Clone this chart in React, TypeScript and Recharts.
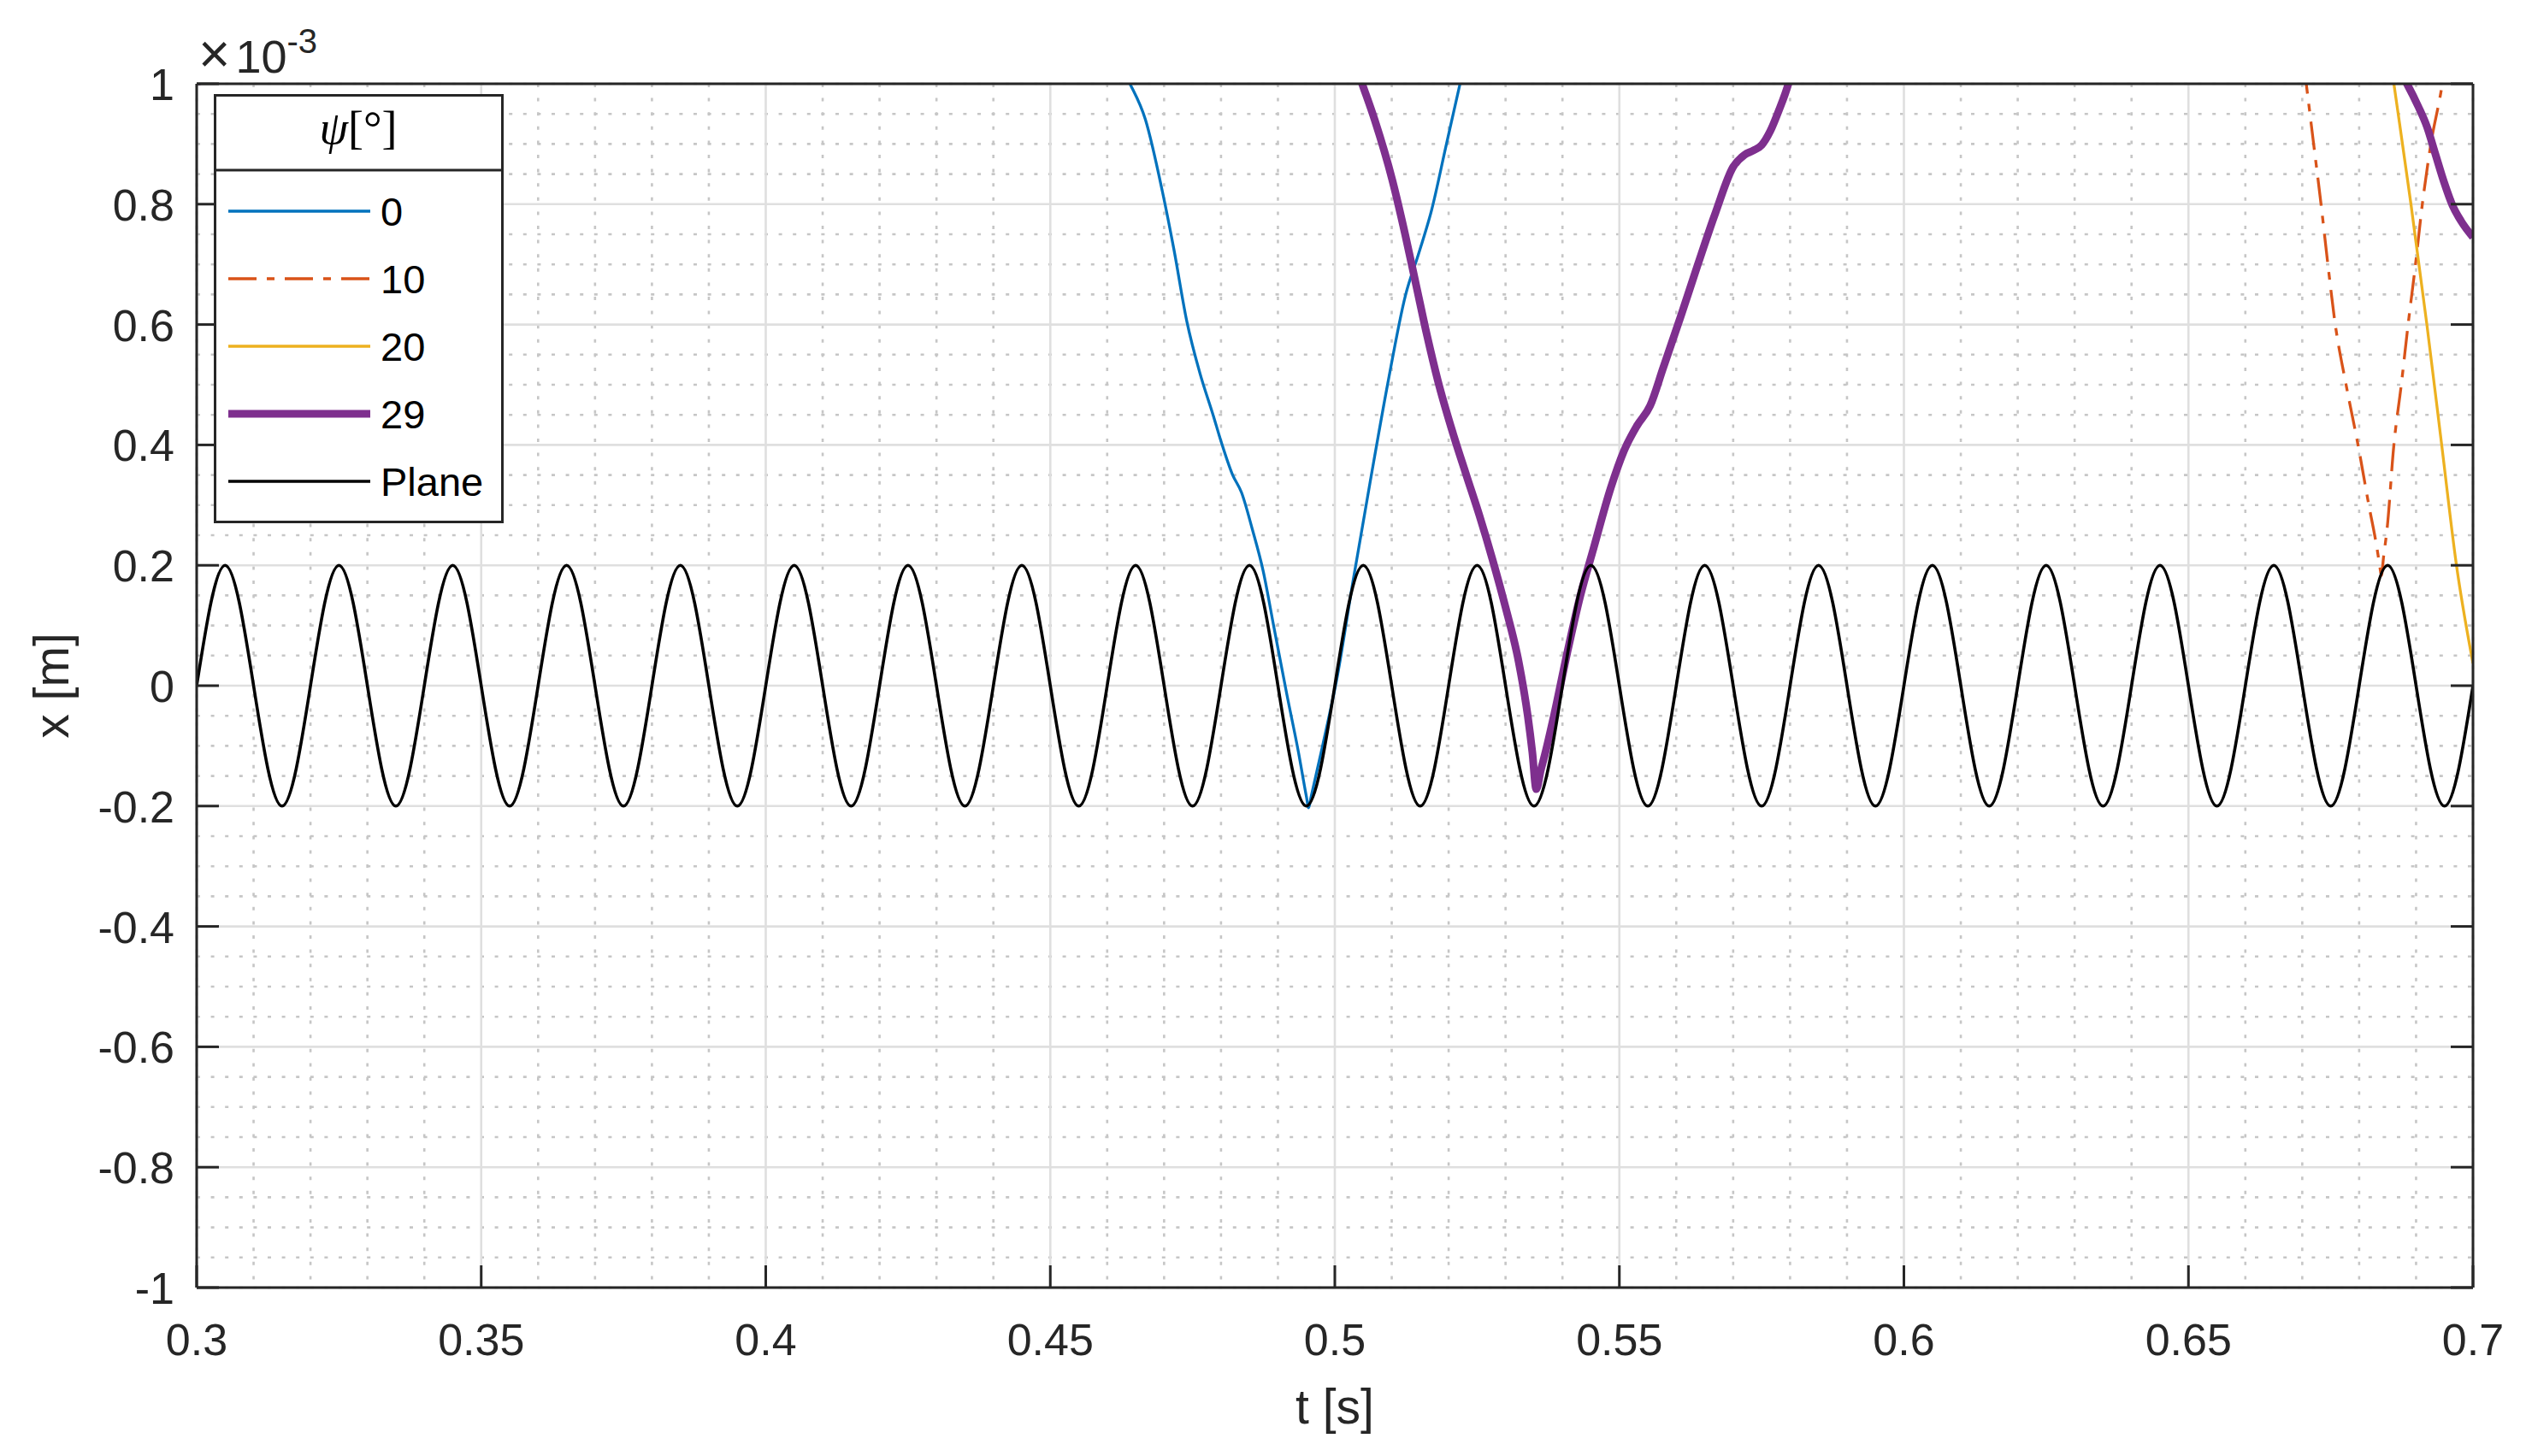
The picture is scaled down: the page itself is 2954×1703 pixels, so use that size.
import React from "react";
import { LineChart, Line, XAxis, YAxis, CartesianGrid, Label } from "recharts";

const FONT = '"Liberation Sans", Arial, Helvetica, sans-serif';
const INK = "#262626";

// axis ticks
const tTicks = [0.3, 0.35, 0.4, 0.45, 0.5, 0.55, 0.6, 0.65, 0.7];
const xTicks = [-1, -0.8, -0.6, -0.4, -0.2, 0, 0.2, 0.4, 0.6, 0.8, 1];
const tMinor = [
  0.31, 0.32, 0.33, 0.34, 0.36, 0.37, 0.38, 0.39, 0.41, 0.42, 0.43, 0.44,
  0.46, 0.47, 0.48, 0.49, 0.51, 0.52, 0.53, 0.54, 0.56, 0.57, 0.58, 0.59,
  0.61, 0.62, 0.63, 0.64, 0.66, 0.67, 0.68, 0.69,
];
const xMinor = [
  -0.95, -0.9, -0.85, -0.75, -0.7, -0.65, -0.55, -0.5, -0.45, -0.35, -0.3, -0.25,
  -0.15, -0.1, -0.05, 0.05, 0.1, 0.15, 0.25, 0.3, 0.35, 0.45, 0.5, 0.55,
  0.65, 0.7, 0.75, 0.85, 0.9, 0.95,
];

// plane motion (x in 1e-3 m)
const planeT = [
  0.3, 0.305, 0.31, 0.315, 0.32, 0.325, 0.33, 0.335, 0.34, 0.345, 0.35, 0.355,
  0.36, 0.365, 0.37, 0.375, 0.38, 0.385, 0.39, 0.395, 0.4, 0.405, 0.41, 0.415,
  0.42, 0.425, 0.43, 0.435, 0.44, 0.445, 0.45, 0.455, 0.46, 0.465, 0.47, 0.475,
  0.48, 0.485, 0.49, 0.495, 0.5, 0.505, 0.51, 0.515, 0.52, 0.525, 0.53, 0.535,
  0.54, 0.545, 0.55, 0.555, 0.56, 0.565, 0.57, 0.575, 0.58, 0.585, 0.59, 0.595,
  0.6, 0.605, 0.61, 0.615, 0.62, 0.625, 0.63, 0.635, 0.64, 0.645, 0.65, 0.655,
  0.66, 0.665, 0.67, 0.675, 0.68, 0.685, 0.69, 0.695, 0.7,
];
const planeX = [
  0, 0.2, 0, -0.2, 0, 0.2, 0, -0.2, 0, 0.2, 0, -0.2, 0, 0.2, 0, -0.2,
  0, 0.2, 0, -0.2, 0, 0.2, 0, -0.2, 0, 0.2, 0, -0.2, 0, 0.2, 0, -0.2,
  0, 0.2, 0, -0.2, 0, 0.2, 0, -0.2, 0, 0.2, 0, -0.2, 0, 0.2, 0, -0.2,
  0, 0.2, 0, -0.2, 0, 0.2, 0, -0.2, 0, 0.2, 0, -0.2, 0, 0.2, 0, -0.2,
  0, 0.2, 0, -0.2, 0, 0.2, 0, -0.2, 0, 0.2, 0, -0.2, 0, 0.2, 0, -0.2,
  0,
];

// psi = 0
const psi0T = [
  0.4617, 0.464, 0.4667, 0.4697, 0.4717, 0.474, 0.4763, 0.4786, 0.4801, 0.482,
  0.4836, 0.4855, 0.4874, 0.4893, 0.4916, 0.4936, 0.495, 0.4954, 0.4958, 0.4978,
  0.5005, 0.5032, 0.5062, 0.5093, 0.5124, 0.5147, 0.517, 0.5195, 0.522, 0.5236,
];
const psi0X = [
  1.04, 1.0, 0.941, 0.821, 0.726, 0.605, 0.519, 0.45, 0.403, 0.351,
  0.321, 0.26, 0.191, 0.097, -0.016, -0.11, -0.184, -0.203, -0.186, -0.102,
  0.019, 0.174, 0.338, 0.502, 0.648, 0.717, 0.79, 0.895, 1.0, 1.065,
];

// psi = 10
const psi10T = [
  0.6703, 0.6707, 0.672, 0.6733, 0.6745, 0.6758, 0.6777, 0.6798, 0.6817, 0.6831,
  0.6836, 0.6839, 0.6843, 0.6849, 0.6861, 0.6874, 0.6886, 0.6899, 0.6911, 0.6926,
  0.6946, 0.6952,
];
const psi10X = [
  1.03, 1.0, 0.9, 0.8, 0.7, 0.6, 0.5, 0.4, 0.3, 0.23,
  0.2, 0.183, 0.215, 0.26, 0.4, 0.5, 0.6, 0.7, 0.8, 0.9,
  1.0, 1.04,
];

// psi = 20
const psi20T = [0.6855, 0.6861, 0.6891, 0.6919, 0.6945, 0.6971, 0.7];
const psi20X = [1.04, 1.0, 0.8, 0.6, 0.4, 0.2, 0.037];

// psi = 29
const psi29T = [
  0.3, 0.3003, 0.4,
  0.5037, 0.5048, 0.507, 0.5101, 0.5124, 0.5143, 0.5162, 0.5181, 0.5208, 0.5231,
  0.5254, 0.5277, 0.53, 0.5323, 0.5339, 0.5347, 0.5354, 0.5362, 0.5369, 0.5385,
  0.5408, 0.5431, 0.5454, 0.5485, 0.5508, 0.5531, 0.5554, 0.5577, 0.5608, 0.5638,
  0.5669, 0.5700, 0.572, 0.5735, 0.575, 0.5765, 0.578, 0.5797, 0.5808,
  0.65,
  0.6872, 0.6884, 0.6904, 0.6919, 0.6934, 0.6949, 0.6964, 0.6979, 0.7,
];
const psi29X = [
  0.998, 1.05, null,
  1.03, 1.0, 0.94, 0.84, 0.748, 0.665, 0.582, 0.507, 0.418, 0.35,
  0.283, 0.21, 0.13, 0.04, -0.05, -0.11, -0.172, -0.14, -0.115, -0.05,
  0.053, 0.148, 0.226, 0.329, 0.39, 0.432, 0.465, 0.528, 0.614, 0.7,
  0.786, 0.862, 0.882, 0.889, 0.898, 0.921, 0.955, 1.0, 1.04,
  null,
  1.02, 1.0, 0.962, 0.929, 0.883, 0.837, 0.798, 0.772, 0.745,
];

const toPoints = (ts: number[], xs: (number | null)[]) =>
  ts.map((t, i) => ({ t, x: xs[i] }));

const series = [
  { name: "0", data: toPoints(psi0T, psi0X), color: "#0072BD", width: 3.3, dash: undefined as string | undefined, curve: "monotone" },
  { name: "10", data: toPoints(psi10T, psi10X), color: "#D95319", width: 3.3, dash: "33 12 9 12", curve: "monotone" },
  { name: "20", data: toPoints(psi20T, psi20X), color: "#EDB120", width: 3.3, dash: undefined, curve: "monotone" },
  { name: "29", data: toPoints(psi29T, psi29X), color: "#7E2F8E", width: 9, dash: undefined, curve: "monotone" },
  { name: "Plane", data: toPoints(planeT, planeX), color: "#000000", width: 3.6, dash: undefined, curve: "natural" },
];

const TICK_LEN = 26;

const BottomTick = (p: any) => (
  <g>
    <line x1={p.x} y1={p.y} x2={p.x} y2={p.y - TICK_LEN} stroke={INK} strokeWidth={3} />
    <text x={p.x} y={p.y + 79} textAnchor="middle" fontSize={52} fill={INK} fontFamily={FONT}>
      {String(p.payload.value)}
    </text>
  </g>
);

const LeftTick = (p: any) => (
  <g>
    <line x1={p.x} y1={p.y} x2={p.x + TICK_LEN} y2={p.y} stroke={INK} strokeWidth={3} />
    <text x={p.x - 26} y={p.y + 19} textAnchor="end" fontSize={52} fill={INK} fontFamily={FONT}>
      {String(p.payload.value)}
    </text>
  </g>
);

const TopTick = (p: any) => (
  <line x1={p.x} y1={p.y} x2={p.x} y2={p.y + TICK_LEN} stroke={INK} strokeWidth={3} />
);

const RightTick = (p: any) => (
  <line x1={p.x} y1={p.y} x2={p.x - TICK_LEN} y2={p.y} stroke={INK} strokeWidth={3} />
);

const XTitle = (props: any) => {
  const vb = props.viewBox ?? { x: 230, y: 1506, width: 2662, height: 170 };
  return (
    <text x={vb.x + vb.width / 2} y={vb.y + 159} textAnchor="middle" fontSize={57} fill={INK} fontFamily={FONT}>
      t [s]
    </text>
  );
};

const YTitle = (props: any) => {
  const vb = props.viewBox ?? { x: 0, y: 98, width: 230, height: 1408 };
  const cx = vb.x + 80;
  const cy = vb.y + vb.height / 2;
  return (
    <text x={cx} y={cy} transform={`rotate(-90, ${cx}, ${cy})`} textAnchor="middle" fontSize={57} fill={INK} fontFamily={FONT}>
      x [m]
    </text>
  );
};

const Exponent = (props: any) => {
  const vb = props.viewBox ?? { x: 230, y: 88, width: 2662, height: 10 };
  return (
    <text x={vb.x + 2} y={85} fontSize={54} fill={INK} fontFamily={FONT}>
      <tspan fontSize={64}>{"\u00d7"}</tspan>
      <tspan dx={6}>10</tspan>
      <tspan dy={-23} fontSize={40}>-3</tspan>
    </text>
  );
};

const Legend = () => {
  const rows = [247, 326, 405, 484, 563];
  return (
    <svg width={2954} height={1703} style={{ position: "absolute", left: 0, top: 0, pointerEvents: "none" }}>
      <rect x={251.5} y={111.5} width={336} height={499} fill="#ffffff" stroke={INK} strokeWidth={3} />
      <line x1={251.5} y1={199} x2={587.5} y2={199} stroke={INK} strokeWidth={3} />
      <text x={419} y={168} textAnchor="middle" fontSize={54} fill="#000" fontFamily='"Liberation Serif", "DejaVu Serif", serif'>
        <tspan fontStyle="italic">{"\u03c8"}</tspan>
        {"[\u00b0]"}
      </text>
      {series.map((s, i) => (
        <g key={s.name}>
          <line x1={267} y1={rows[i]} x2={433} y2={rows[i]} stroke={s.color} strokeWidth={s.width} strokeDasharray={s.dash} />
          <text x={445} y={rows[i] + 17} fontSize={47} fill="#000" fontFamily={FONT}>
            {s.name}
          </text>
        </g>
      ))}
    </svg>
  );
};

export default function App() {
  return (
    <div style={{ position: "absolute", left: 0, top: 0, width: 2954, height: 1703, background: "#fff" }}>
      <LineChart width={2954} height={1703} margin={{ top: 88, right: 52, bottom: 27, left: 0 }}>
        <XAxis xAxisId="minor" type="number" dataKey="t" domain={[0.3, 0.7]} ticks={tMinor} allowDataOverflow hide />
        <YAxis yAxisId="minor" type="number" domain={[-1, 1]} ticks={xMinor} allowDataOverflow hide />
        <CartesianGrid xAxisId="minor" yAxisId="minor" stroke="#c6c6c6" strokeWidth={2.6} strokeDasharray="4 12.6" />
        <CartesianGrid stroke="#dfdfdf" strokeWidth={2.6} />
        <XAxis
          type="number"
          dataKey="t"
          domain={[0.3, 0.7]}
          ticks={tTicks}
          interval={0}
          allowDataOverflow
          height={170}
          tickSize={0}
          tickMargin={0}
          tickLine={false}
          axisLine={{ stroke: INK, strokeWidth: 3 }}
          tick={BottomTick}
        >
          <Label content={XTitle} />
        </XAxis>
        <XAxis
          xAxisId="top"
          orientation="top"
          type="number"
          domain={[0.3, 0.7]}
          ticks={tTicks}
          interval={0}
          allowDataOverflow
          height={10}
          tickSize={0}
          tickMargin={0}
          tickLine={false}
          axisLine={{ stroke: INK, strokeWidth: 3 }}
          tick={TopTick}
        >
          <Label content={Exponent} />
        </XAxis>
        <YAxis
          type="number"
          domain={[-1, 1]}
          ticks={xTicks}
          interval={0}
          allowDataOverflow
          width={230}
          tickSize={0}
          tickMargin={0}
          tickLine={false}
          axisLine={{ stroke: INK, strokeWidth: 3 }}
          tick={LeftTick}
        >
          <Label content={YTitle} />
        </YAxis>
        <YAxis
          yAxisId="right"
          orientation="right"
          type="number"
          domain={[-1, 1]}
          ticks={xTicks}
          interval={0}
          allowDataOverflow
          width={10}
          tickSize={0}
          tickMargin={0}
          tickLine={false}
          axisLine={{ stroke: INK, strokeWidth: 3 }}
          tick={RightTick}
        />
        {series.map((s) => (
          <Line
            key={s.name}
            data={s.data}
            dataKey="x"
            type={s.curve as any}
            stroke={s.color}
            strokeWidth={s.width}
            strokeDasharray={s.dash}
            dot={false}
            activeDot={false}
            connectNulls={false}
            isAnimationActive={false}
          />
        ))}
      </LineChart>
      <Legend />
    </div>
  );
}
